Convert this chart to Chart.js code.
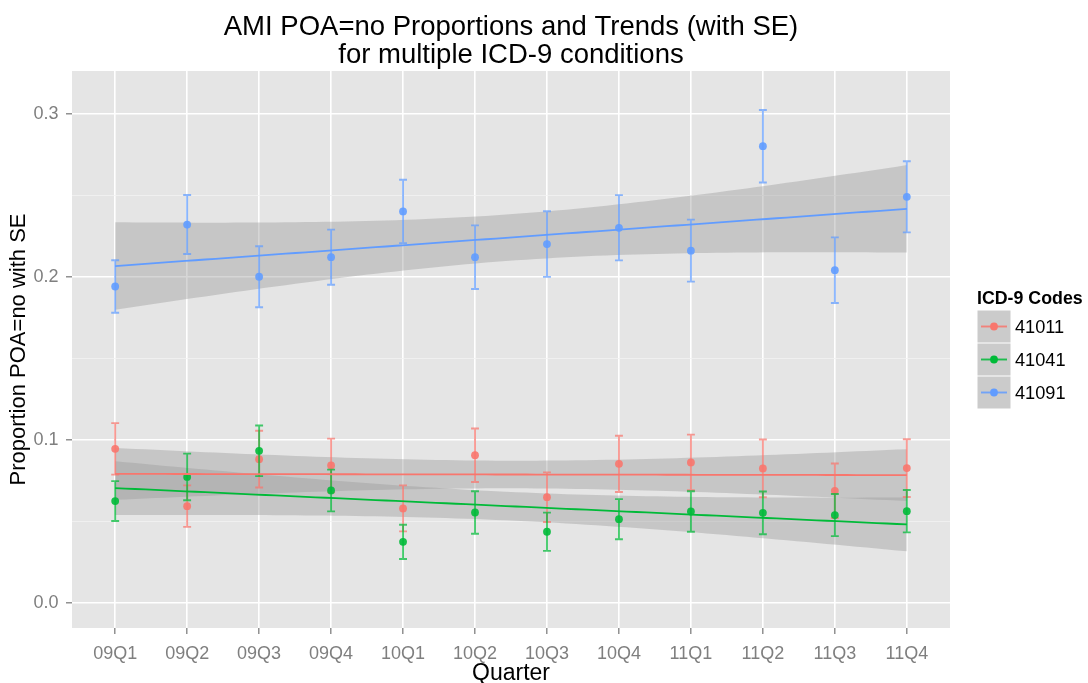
<!DOCTYPE html>
<html>
<head>
<meta charset="utf-8">
<title>AMI POA=no Proportions and Trends</title>
<script src="https://cdn.jsdelivr.net/npm/chart.js@4.4.1/dist/chart.umd.min.js"></script>
<style>
  html, body { margin: 0; padding: 0; background: #ffffff; }
  canvas { display: block; }
</style>
</head>
<body>
<canvas id="chart" width="1088" height="683"></canvas>
<script>
// ---- data ----
const quarters = ['09Q1', '09Q2', '09Q3', '09Q4', '10Q1', '10Q2', '10Q3', '10Q4', '11Q1', '11Q2', '11Q3', '11Q4'];
const codes = ['41011', '41041', '41091'];

const prop41011 = [0.0945, 0.0594, 0.0882, 0.0843, 0.0580, 0.0906, 0.0649, 0.0853, 0.0862, 0.0825, 0.0688, 0.0827];
const se41011   = [0.0158, 0.0127, 0.0174, 0.0165, 0.0141, 0.0164, 0.0152, 0.0172, 0.0170, 0.0177, 0.0167, 0.0177];

const prop41041 = [0.0625, 0.0773, 0.0933, 0.0690, 0.0375, 0.0555, 0.0437, 0.0514, 0.0561, 0.0553, 0.0539, 0.0563];
const se41041   = [0.0122, 0.0143, 0.0155, 0.0128, 0.0105, 0.0130, 0.0117, 0.0123, 0.0124, 0.0131, 0.0129, 0.0130];

const prop41091 = [0.194, 0.232, 0.200, 0.212, 0.240, 0.212, 0.220, 0.230, 0.216, 0.280, 0.204, 0.249];
const se41091   = [0.0161, 0.0181, 0.0187, 0.0169, 0.0194, 0.0195, 0.0201, 0.0200, 0.0190, 0.0222, 0.0201, 0.0218];

const yTickValues = [0, 0.05, 0.1, 0.15, 0.2, 0.25, 0.3];
const yMajorValues = [0, 0.1, 0.2, 0.3];
const yMin = -0.0153, yMax = 0.3261;

// ---- styling ----
const FONT = '"Liberation Sans", Arial, Helvetica, sans-serif';
const seriesColors = ['#F8766D', '#00BA38', '#619CFF'];
const series = [
  { code: codes[0], y: prop41011, se: se41011, color: seriesColors[0] },
  { code: codes[1], y: prop41041, se: se41041, color: seriesColors[1] },
  { code: codes[2], y: prop41091, se: se41091, color: seriesColors[2] }
];

function rgba(hex, a) {
  const n = parseInt(hex.slice(1), 16);
  return `rgba(${(n >> 16) & 255},${(n >> 8) & 255},${n & 255},${a})`;
}

// Ordinary least squares trend against quarter index, with a 95% confidence band
const T_975_DF10 = 2.228139;
function linearTrend(ys) {
  const n = ys.length;
  const xs = ys.map((_, i) => i + 1);
  const xbar = xs.reduce((a, b) => a + b, 0) / n;
  const ybar = ys.reduce((a, b) => a + b, 0) / n;
  let sxx = 0, sxy = 0;
  xs.forEach((x, i) => { sxx += (x - xbar) ** 2; sxy += (x - xbar) * (ys[i] - ybar); });
  const slope = sxy / sxx;
  const icpt = ybar - slope * xbar;
  let ssr = 0;
  xs.forEach((x, i) => { ssr += (ys[i] - (icpt + slope * x)) ** 2; });
  const s = Math.sqrt(ssr / (n - 2));
  const fit = x => icpt + slope * x;
  const half = x => T_975_DF10 * s * Math.sqrt(1 / n + (x - xbar) ** 2 / sxx);
  return { fit, half, x0: xs[0], x1: xs[n - 1] };
}

const datasets = [];
series.forEach((s, k) => {
  const tr = linearTrend(s.y);
  const steps = 80;
  const upper = [], lower = [], line = [];
  for (let i = 0; i < steps; i++) {
    const x = tr.x0 + (tr.x1 - tr.x0) * i / (steps - 1);
    const f = tr.fit(x), h = tr.half(x);
    upper.push({ x, y: f + h });
    lower.push({ x, y: f - h });
    line.push({ x, y: f });
  }
  // confidence band (upper edge filled down to the lower edge)
  datasets.push({
    data: upper, borderWidth: 0, pointRadius: 0, fill: '+1',
    backgroundColor: 'rgba(153,153,153,0.4)', borderColor: 'rgba(0,0,0,0)',
    order: 100 - k
  });
  datasets.push({
    data: lower, borderWidth: 0, pointRadius: 0, fill: false,
    borderColor: 'rgba(0,0,0,0)', order: 100 - k
  });
  // observed proportions
  datasets.push({
    data: s.y.map((v, i) => ({ x: i + 1, y: v })),
    showLine: false, pointRadius: 3.9, pointHoverRadius: 3.9, pointBorderWidth: 0,
    pointBackgroundColor: rgba(s.color, 0.9), borderColor: s.color,
    errorSE: s.se, errorColor: rgba(s.color, 0.72),
    order: 50 - k
  });
  // fitted trend
  datasets.push({
    data: line, borderColor: s.color, borderWidth: 1.8, pointRadius: 0, fill: false,
    order: 20 - k
  });
});

// ---- plugins ----
const panelBackground = {
  id: 'panelBackground',
  beforeDraw(chart) {
    const { ctx, chartArea: a } = chart;
    ctx.save();
    ctx.fillStyle = '#E5E5E5';
    ctx.fillRect(a.left, a.top, a.right - a.left, a.bottom - a.top);
    ctx.restore();
  }
};

const errorBars = {
  id: 'errorBars',
  beforeDatasetDraw(chart, args) {
    const ds = chart.data.datasets[args.index];
    if (!ds.errorSE) return;
    const { ctx, scales: { x, y } } = chart;
    ctx.save();
    ctx.strokeStyle = ds.errorColor;
    ctx.lineWidth = 1.9;
    ds.data.forEach((p, i) => {
      const px = x.getPixelForValue(p.x);
      const capHalf = x.getPixelForValue(p.x + 0.055) - px;
      const top = y.getPixelForValue(p.y + ds.errorSE[i]);
      const bot = y.getPixelForValue(p.y - ds.errorSE[i]);
      ctx.beginPath();
      ctx.moveTo(px, top); ctx.lineTo(px, bot);
      ctx.moveTo(px - capHalf, top); ctx.lineTo(px + capHalf, top);
      ctx.moveTo(px - capHalf, bot); ctx.lineTo(px + capHalf, bot);
      ctx.stroke();
    });
    ctx.restore();
  }
};

const titleAndLegend = {
  id: 'titleAndLegend',
  afterDraw(chart) {
    const { ctx, chartArea: a } = chart;
    ctx.save();
    // plot title
    ctx.fillStyle = '#000000';
    ctx.font = `27.5px ${FONT}`;
    ctx.textAlign = 'center';
    ctx.textBaseline = 'alphabetic';
    const cx = (a.left + a.right) / 2;
    ctx.fillText('AMI POA=no Proportions and Trends (with SE)', cx, 35);
    ctx.fillText('for multiple ICD-9 conditions', cx, 63);

    // legend
    const lx = a.right + 27;
    ctx.textAlign = 'left';
    ctx.font = `bold 17.8px ${FONT}`;
    ctx.fillText('ICD-9 Codes', lx, 304);
    const keyW = 34, keyH = 33;
    series.forEach((s, k) => {
      const ky = 310 + k * keyH;
      ctx.fillStyle = '#FFFFFF';
      ctx.fillRect(lx, ky, keyW, keyH);
      ctx.fillStyle = '#CBCBCB';
      ctx.fillRect(lx + 0.5, ky + 0.5, keyW - 1, keyH - 1);
      const my = ky + keyH / 2;
      ctx.strokeStyle = rgba(s.color, 0.85);
      ctx.lineWidth = 1.9;
      ctx.beginPath();
      ctx.moveTo(lx + 4, my); ctx.lineTo(lx + keyW - 4, my);
      ctx.stroke();
      ctx.fillStyle = s.color;
      ctx.beginPath();
      ctx.arc(lx + keyW / 2, my, 3.9, 0, Math.PI * 2);
      ctx.fill();
      ctx.fillStyle = '#000000';
      ctx.font = `18.2px ${FONT}`;
      ctx.textBaseline = 'middle';
      ctx.fillText(s.code, lx + keyW + 4, my + 1);
      ctx.textBaseline = 'alphabetic';
    });
    ctx.restore();
  }
};

const isMajor = v => yMajorValues.some(m => Math.abs(m - v) < 1e-9);

new Chart(document.getElementById('chart'), {
  type: 'line',
  data: { datasets },
  options: {
    responsive: false,
    animation: false,
    events: [],
    layout: { padding: { top: 71, right: 138, bottom: 0, left: 0 } },
    plugins: { legend: { display: false }, title: { display: false }, tooltip: { enabled: false } },
    scales: {
      x: {
        type: 'linear', min: 0.4, max: 12.6, bounds: 'data',
        afterBuildTicks: s => { s.ticks = quarters.map((_, i) => ({ value: i + 1 })); },
        afterFit: s => { s.height = 55; },
        ticks: {
          callback: (v, i) => quarters[i],
          autoSkip: false, maxRotation: 0, minRotation: 0,
          color: '#7F7F7F', padding: 9,
          font: { family: FONT, size: 18, lineHeight: 1.2 }
        },
        grid: { color: '#FFFFFF', lineWidth: 1.6, tickColor: '#7F7F7F', tickLength: 6, tickWidth: 1.3 },
        border: { display: false },
        title: {
          display: true, text: 'Quarter', color: '#000000',
          font: { family: FONT, size: 23, lineHeight: 0.8 }, padding: { top: 0, bottom: 0 }
        }
      },
      y: {
        type: 'linear', min: yMin, max: yMax, bounds: 'data',
        afterBuildTicks: s => { s.ticks = yTickValues.map(v => ({ value: v })); },
        afterFit: s => { s.width = 72; },
        ticks: {
          callback: v => (isMajor(v) ? v.toFixed(1) : ''),
          color: '#7F7F7F', padding: 7.5,
          font: { family: FONT, size: 18, lineHeight: 1.2 }
        },
        grid: {
          color: c => (isMajor(c.tick.value) ? '#FFFFFF' : '#F2F2F2'),
          lineWidth: c => (isMajor(c.tick.value) ? 1.6 : 0.8),
          tickColor: c => (isMajor(c.tick.value) ? '#7F7F7F' : 'rgba(0,0,0,0)'),
          tickLength: 6, tickWidth: 1.3
        },
        border: { display: false },
        title: {
          display: true, text: 'Proportion POA=no with SE', color: '#000000',
          font: { family: FONT, size: 22, lineHeight: 1 }, padding: { top: 8, bottom: 0 }
        }
      }
    }
  },
  plugins: [panelBackground, errorBars, titleAndLegend]
});
</script>
</body>
</html>
